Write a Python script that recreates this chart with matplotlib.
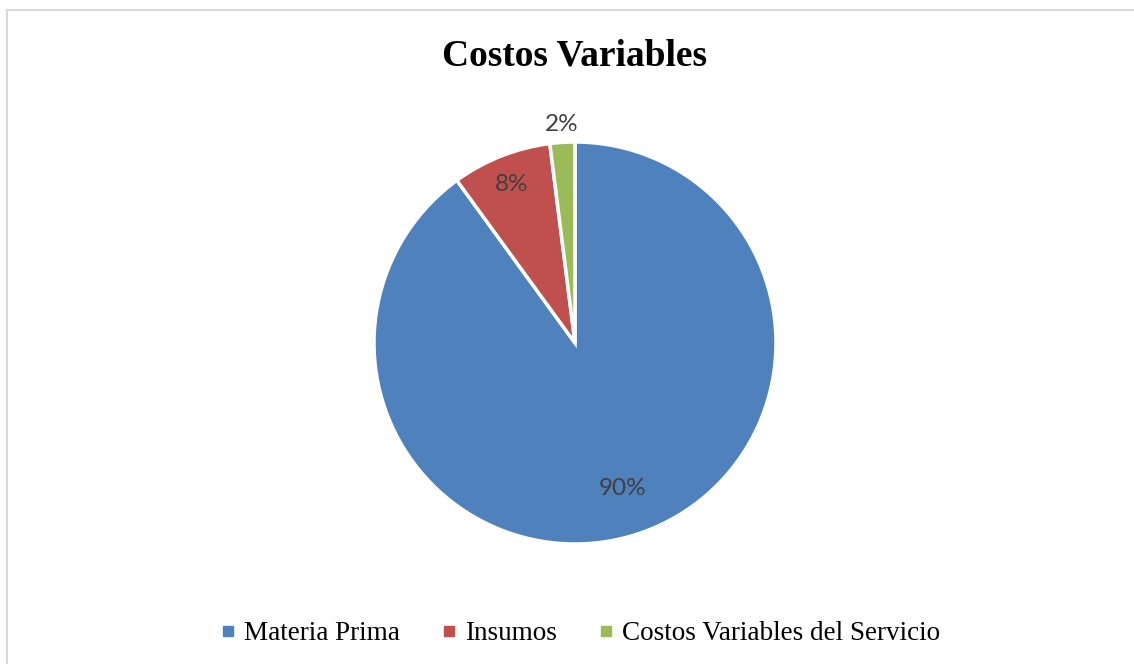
import numpy as np
import matplotlib.pyplot as plt
from matplotlib.patches import Rectangle

categories = ["Materia Prima", "Insumos", "Costos Variables del Servicio"]
values = [90, 8, 2]
colors = ["#4F81BD", "#C0504D", "#9BBB59"]
label_dist = [0.76, 0.85, 1.09]

W, H = 1134, 664
fig = plt.figure(figsize=(W / 100, H / 100), dpi=100)

# light frame
fig.patches.append(Rectangle((7 / W, -0.01), 1.02, 1 - 10 / H + 0.01, transform=fig.transFigure,
                             fill=False, edgecolor="#D9D9D9", linewidth=1.5))

cx, cy, r = 575, 343, 201
ax = fig.add_axes([(cx - r) / W, (H - cy - r) / H, 2 * r / W, 2 * r / H])
wedges, _ = ax.pie(values, colors=colors, startangle=90, counterclock=False,
                   wedgeprops=dict(edgecolor="white", linewidth=2.5))
ax.set_xlim(-1, 1)
ax.set_ylim(-1, 1)
ax.set_aspect("equal")
ax.axis("off")

for w, v, d in zip(wedges, values, label_dist):
    ang = np.deg2rad((w.theta1 + w.theta2) / 2)
    ax.text(d * np.cos(ang), d * np.sin(ang), f"{v}%", ha="center", va="center",
            fontsize=17.5, color="#404040", family="Lato", clip_on=False)

fig.text(cx / W, 1 - 56 / H, "Costos Variables", ha="center", va="center",
         fontsize=27, fontweight="bold", family="Liberation Serif")

handles = [plt.Line2D([], [], marker="s", linestyle="", color=c, markersize=7) for c in colors]
fig.legend(handles, categories, loc="center", bbox_to_anchor=(580 / W, 1 - 634 / H),
           ncol=3, frameon=False, prop={"family": "Liberation Serif", "size": 19.5},
           handlelength=0.6, handletextpad=0.3, columnspacing=1.5)

fig.savefig("out.png", dpi=100)
